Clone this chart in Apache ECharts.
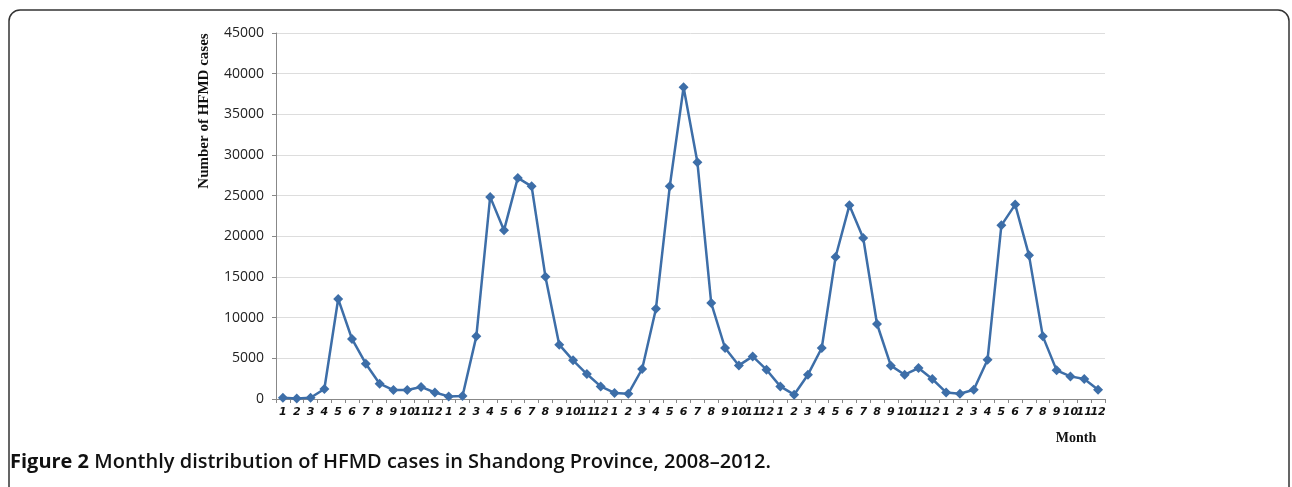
<!DOCTYPE html>
<html>
<head>
<meta charset="utf-8">
<script src="https://cdn.jsdelivr.net/npm/echarts@6/dist/echarts.min.js"></script>
<style>
html,body{margin:0;padding:0;background:#fff;}
#c{width:1292px;height:487px;}
</style>
</head>
<body>
<div id="c"></div>
<script>
const years = [2008, 2009, 2010, 2011, 2012];
const months = ['1','2','3','4','5','6','7','8','9','10','11','12'];
const cases2008 = [150, 50, 150, 1230, 12300, 7380, 4340, 1880, 1100, 1100, 1480, 800];
const cases2009 = [320, 380, 7700, 24850, 20740, 27180, 26150, 15040, 6680, 4750, 3070, 1550];
const cases2010 = [740, 650, 3690, 11100, 26150, 38330, 29100, 11800, 6270, 4130, 5240, 3600];
const cases2011 = [1550, 530, 2990, 6270, 17460, 23810, 19800, 9220, 4100, 2990, 3810, 2460];
const cases2012 = [810, 650, 1140, 4830, 21350, 23900, 17660, 7700, 3520, 2780, 2460, 1140];
const yTicks = [0, 5000, 10000, 15000, 20000, 25000, 30000, 35000, 40000, 45000];

const categories = [];
years.forEach(y => months.forEach(m => categories.push(y + '-' + m)));
const values = [].concat(cases2008, cases2009, cases2010, cases2011, cases2012);

const chart = echarts.init(document.getElementById('c'), null, {renderer: 'canvas'});
chart.setOption({
  animation: false,
  backgroundColor: '#ffffff',
  grid: {left: 276, right: 187, top: 33, bottom: 88, containLabel: false},
  xAxis: {
    type: 'category',
    data: categories,
    boundaryGap: true,
    axisLine: {show: true, lineStyle: {color: '#888888', width: 1}},
    axisTick: {show: true, interval: 0, length: 4, lineStyle: {color: '#888888'}},
    axisLabel: {
      interval: 0, margin: 8,
      formatter: v => v.split('-')[1],
      fontFamily: 'DejaVu Sans', fontStyle: 'italic', fontWeight: 'bold',
      fontSize: 11, color: '#111111'
    },
    splitLine: {show: false}
  },
  yAxis: {
    type: 'value',
    min: yTicks[0], max: yTicks[yTicks.length - 1], interval: 5000,
    axisLine: {show: true, lineStyle: {color: '#888888', width: 1}},
    axisTick: {show: true, length: 4, lineStyle: {color: '#888888'}},
    axisLabel: {fontFamily: 'Open Sans', fontSize: 14, color: '#222222', margin: 12,
      formatter: v => String(v)},
    splitLine: {show: true, lineStyle: {color: '#dddddd', width: 1}}
  },
  series: [{
    type: 'line',
    data: values,
    symbol: 'diamond',
    symbolSize: 10,
    lineStyle: {color: '#3d6ea8', width: 2.5},
    itemStyle: {color: '#3d6ea8'}
  }],
  graphic: [
    {
      type: 'rect',
      shape: {x: 9, y: 10, width: 1280, height: 520, r: 11},
      style: {fill: null, stroke: '#333333', lineWidth: 1.5},
      z: -1, silent: true
    },
    {
      type: 'text',
      x: 204, y: 111, rotation: Math.PI / 2,
      style: {
        text: 'Number of HFMD cases',
        font: 'bold 15px "Liberation Serif"',
        fill: '#111111', textAlign: 'center', textVerticalAlign: 'middle'
      }
    },
    {
      type: 'text',
      x: 1076, y: 438,
      style: {
        text: 'Month',
        font: 'bold 14px "Liberation Serif"',
        fill: '#111111', textAlign: 'center', textVerticalAlign: 'middle'
      }
    },
    {
      type: 'text',
      x: 10, y: 462,
      style: {
        text: '{b|Figure 2} Monthly distribution of HFMD cases in Shandong Province, 2008\u20132012.',
        rich: {
          b: {fontFamily: 'Open Sans', fontWeight: 'bold', fontSize: 20, fill: '#111111'}
        },
        fontFamily: 'Open Sans', fontWeight: 600, fontSize: 20, fill: '#111111',
        textVerticalAlign: 'middle'
      }
    }
  ]
});
</script>
</body>
</html>
